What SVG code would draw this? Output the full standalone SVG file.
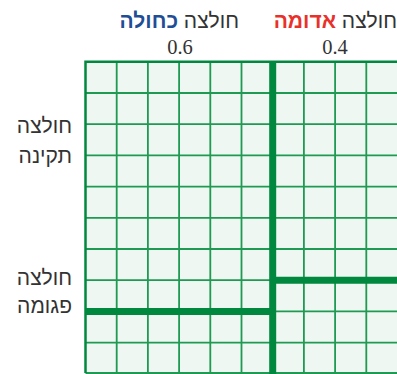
<svg xmlns="http://www.w3.org/2000/svg" width="397" height="374" viewBox="0 0 397 374">
<style>
.heb{font-family:"Liberation Sans","DejaVu Sans",sans-serif;font-size:21px;fill:#333}
.num{font-family:"Liberation Serif",serif;font-size:20.5px;fill:#333}
.thin{stroke:#1f9a52;stroke-width:1.8;fill:none}
.thick{stroke:#00893e;stroke-width:7;fill:none}
</style>
<rect x="0" y="0" width="397" height="374" fill="#ffffff"/>
<g id="grid">
<rect x="85.5" y="61.8" width="320" height="320" fill="#eef7f1"/>
<path class="thin" d="M116.7 61.8V374M147.9 61.8V374M179.1 61.8V374M210.3 61.8V374M241.5 61.8V374M303.9 61.8V374M335.1 61.8V374M366.3 61.8V374M85.5 93H397M85.5 124.2H397M85.5 155.4H397M85.5 186.6H397M85.5 217.8H397M85.5 249H397M85.5 280.2H397M85.5 311.4H397M85.5 342.6H397M85.5 373H397"/>
<path stroke="#00893e" stroke-width="2.5" fill="none" d="M85.5 373V61.8H397"/>
<path class="thick" d="M272.7 61V374M85.5 311.4H272.7M272.7 280.2H397"/>
</g>
<g id="labels">
<text class="heb" x="239" y="28" text-anchor="end">חולצה <tspan font-weight="bold" fill="#1f4e96">כחולה</tspan></text>
<text class="heb" x="397" y="28" text-anchor="end">חולצה <tspan font-weight="bold" fill="#e8312a">אדומה</tspan></text>
<text class="num" x="180" y="54" text-anchor="middle">0.6</text>
<text class="num" x="335" y="54" text-anchor="middle">0.4</text>
<text class="heb" x="72" y="133" text-anchor="end">חולצה</text>
<text class="heb" x="72" y="163" text-anchor="end">תקינה</text>
<text class="heb" x="72" y="285" text-anchor="end">חולצה</text>
<text class="heb" x="72" y="313" text-anchor="end">פגומה</text>
</g>
</svg>
